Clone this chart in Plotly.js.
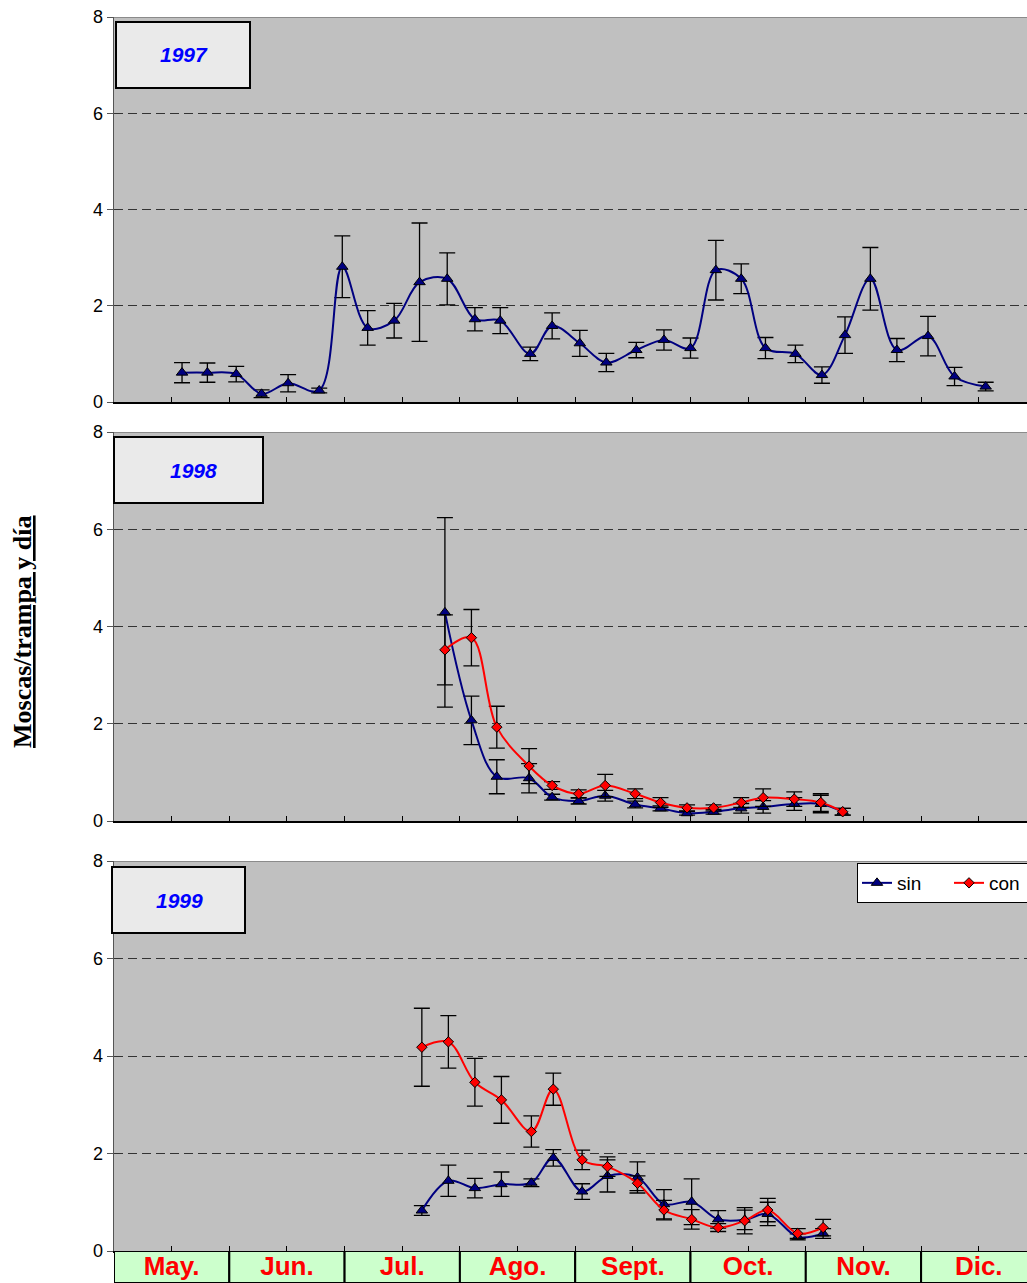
<!DOCTYPE html>
<html>
<head>
<meta charset="utf-8">
<script src="https://cdn.plot.ly/plotly-3.0.1.min.js"></script>
<style>
  html, body { margin: 0; padding: 0; background: #fff; }
  #chart { width: 1027px; height: 1283px; }
</style>
</head>
<body>
<div id="chart"></div>
<script>
// Month labels (x axis is in "months since 1 May": May = 0..1, Jun = 1..2, ...)
const months = ['May.', 'Jun.', 'Jul.', 'Ago.', 'Sept.', 'Oct.', 'Nov.', 'Dic.'];
const years = ['1997', '1998', '1999'];

// 1997 (sin only)
const x97 = [0.59, 0.81, 1.06, 1.28, 1.51, 1.78, 1.98, 2.20, 2.43, 2.65, 2.89, 3.13, 3.35, 3.61, 3.80, 4.04,
             4.27, 4.53, 4.77, 5.00, 5.22, 5.44, 5.65, 5.91, 6.14, 6.34, 6.56, 6.79, 7.06, 7.29, 7.56];
const sin97 = [0.61, 0.61, 0.58, 0.17, 0.39, 0.24, 2.81, 1.54, 1.69, 2.49, 2.56, 1.72, 1.69, 1.00, 1.58, 1.22,
               0.82, 1.08, 1.29, 1.12, 2.74, 2.56, 1.12, 1.00, 0.56, 1.39, 2.56, 1.08, 1.37, 0.53, 0.32];
const errSin97 = [0.21, 0.20, 0.16, 0.08, 0.18, 0.05, 0.64, 0.36, 0.36, 1.23, 0.54, 0.24, 0.27, 0.14, 0.27, 0.27,
                  0.19, 0.16, 0.21, 0.21, 0.62, 0.31, 0.22, 0.18, 0.17, 0.38, 0.65, 0.24, 0.41, 0.19, 0.09];

// 1998
const x98 = [2.87, 3.10, 3.32, 3.60, 3.80, 4.03, 4.26, 4.52, 4.74, 4.97, 5.20, 5.44, 5.63, 5.90, 6.13, 6.32];
const sin98 = [4.29, 2.07, 0.91, 0.88, 0.49, 0.41, 0.52, 0.34, 0.26, 0.16, 0.19, 0.26, 0.29, 0.35, 0.35, 0.19];
const errSin98 = [1.95, 0.50, 0.35, 0.30, 0.06, 0.06, 0.11, 0.07, 0.05, 0.04, 0.05, 0.10, 0.13, 0.13, 0.18, 0.07];
const con98 = [3.52, 3.77, 1.93, 1.13, 0.73, 0.56, 0.73, 0.56, 0.38, 0.27, 0.27, 0.38, 0.48, 0.45, 0.38, 0.19];
const errCon98 = [0.72, 0.58, 0.43, 0.36, 0.08, 0.08, 0.23, 0.10, 0.10, 0.06, 0.06, 0.10, 0.18, 0.15, 0.18, 0.07];

// 1999
const x99 = [2.67, 2.90, 3.13, 3.36, 3.62, 3.81, 4.06, 4.28, 4.54, 4.77, 5.01, 5.24, 5.47, 5.67, 5.93, 6.15];
const sin99 = [0.83, 1.44, 1.29, 1.37, 1.40, 1.91, 1.22, 1.54, 1.51, 0.96, 1.01, 0.65, 0.64, 0.76, 0.29, 0.36];
const errSin99 = [0.10, 0.32, 0.20, 0.25, 0.08, 0.17, 0.16, 0.33, 0.32, 0.30, 0.47, 0.18, 0.20, 0.24, 0.06, 0.10];
const con99 = [4.18, 4.29, 3.46, 3.10, 2.45, 3.32, 1.87, 1.73, 1.39, 0.84, 0.65, 0.48, 0.62, 0.84, 0.36, 0.48];
const errCon99 = [0.80, 0.54, 0.49, 0.48, 0.32, 0.33, 0.20, 0.20, 0.15, 0.20, 0.20, 0.08, 0.27, 0.24, 0.10, 0.17];

// ---------- styling helpers ----------
const H = 1283;
const py = p => 1 - p / H;           // pixel row -> paper y
const px = p => (p - 114) / 913;     // pixel column -> paper x

const blue = '#000080', red = '#FF0000';
function sinTrace(x, y, e, xa, ya, show) {
  return {
    x: x, y: y, xaxis: xa, yaxis: ya, type: 'scatter', mode: 'lines+markers', name: 'sin',
    showlegend: show, legendgroup: 'sin',
    line: { color: blue, width: 2, shape: 'spline', smoothing: 1 },
    marker: { symbol: 'triangle-up', size: 10, color: blue, line: { color: '#000', width: 1 } },
    error_y: { type: 'data', array: e, visible: true, color: '#000', thickness: 1.3, width: 8 },
    hoverinfo: 'x+y'
  };
}
function conTrace(x, y, e, xa, ya, show) {
  return {
    x: x, y: y, xaxis: xa, yaxis: ya, type: 'scatter', mode: 'lines+markers', name: 'con',
    showlegend: show, legendgroup: 'con',
    line: { color: red, width: 2, shape: 'spline', smoothing: 1 },
    marker: { symbol: 'diamond', size: 8, color: red, line: { color: '#000', width: 1 } },
    error_y: { type: 'data', array: e, visible: true, color: '#000', thickness: 1.3, width: 8 },
    hoverinfo: 'x+y'
  };
}

const monthCenters = months.map((m, i) => i + 0.5);

const traces = [
  sinTrace(x97, sin97, errSin97, 'x', 'y', false),
  sinTrace(x98, sin98, errSin98, 'x2', 'y2', false),
  conTrace(x98, con98, errCon98, 'x2', 'y2', false),
  sinTrace(x99, sin99, errSin99, 'x3', 'y3', true),
  conTrace(x99, con99, errCon99, 'x3', 'y3', true),
  // month strip
  {
    x: monthCenters, y: months.map(() => 1), xaxis: 'x4', yaxis: 'y4', type: 'bar', width: 1,
    marker: { color: '#CCFFCC', line: { color: '#000', width: 2 } },
    showlegend: false, hoverinfo: 'skip'
  },
  {
    x: monthCenters, y: months.map(() => 0.45), xaxis: 'x4', yaxis: 'y4', type: 'scatter', mode: 'text',
    text: months, textposition: 'middle center',
    textfont: { family: 'Liberation Sans, Arial, sans-serif', size: 26, color: '#FF0000', weight: 'bold' },
    showlegend: false, hoverinfo: 'skip', cliponaxis: false
  }
];

const XMAX = 913 / 115.3;
function xa(anchor) {
  return {
    anchor: anchor, range: [0, XMAX], showgrid: false, zeroline: false,
    showline: true, linecolor: '#000', linewidth: 2,
    ticks: 'inside', ticklen: 5, tickwidth: 1, tickcolor: '#000',
    tick0: 0, dtick: 0.5, showticklabels: false, fixedrange: true
  };
}
function ya(anchor, dom) {
  return {
    anchor: anchor, domain: dom, range: [0, 8], tick0: 0, dtick: 2,
    showgrid: true, gridcolor: '#333', gridwidth: 1, griddash: '9px,5px',
    zeroline: false, showline: true, linecolor: '#555', linewidth: 1.5,
    ticks: 'outside', ticklen: 6, tickwidth: 1, tickcolor: '#555',
    tickfont: { family: 'Liberation Sans, Arial, sans-serif', size: 18, color: '#000' },
    fixedrange: true
  };
}

const doms = [[py(402), py(17)], [py(821), py(432)], [py(1251), py(861)]];

const boxes = [
  { x0: 116, x1: 250, y0: 22, y1: 88, tx: 184, ty: 55 },
  { x0: 114, x1: 263, y0: 437, y1: 503, tx: 193, ty: 470 },
  { x0: 112, x1: 245, y0: 867, y1: 933, tx: 179, ty: 900 }
];

const shapes = [];
const annotations = [];
boxes.forEach((b, i) => {
  shapes.push({
    type: 'rect', xref: 'paper', yref: 'paper',
    x0: px(b.x0), x1: px(b.x1), y0: py(b.y1), y1: py(b.y0),
    fillcolor: '#EAEAEA', line: { color: '#000', width: 2 }, layer: 'above'
  });
  annotations.push({
    xref: 'paper', yref: 'paper', x: px(b.tx), y: py(b.ty), xanchor: 'center', yanchor: 'middle',
    text: '<b><i>' + years[i] + '</i></b>', showarrow: false,
    font: { family: 'Liberation Sans, Arial, sans-serif', size: 21, color: '#0000FF' }
  });
});
// top border lines of each panel
['y', 'y2', 'y3'].forEach((yr, i) => {
  const xr = ['x', 'x2', 'x3'][i];
  shapes.push({
    type: 'line', xref: xr + ' domain', yref: yr, x0: 0, x1: 1, y0: 8, y1: 8,
    line: { color: '#7a7a7a', width: 1.5 }, layer: 'above'
  });
});

annotations.push({
  xref: 'paper', yref: 'paper', x: px(22), y: py(632), xanchor: 'center', yanchor: 'middle',
  textangle: -90, showarrow: false,
  text: '<b><u>Moscas/trampa y día</u></b>',
  font: { family: 'Liberation Serif, Times New Roman, serif', size: 26, color: '#000' }
});

const layout = {
  width: 1027, height: 1283,
  margin: { l: 114, r: 0, t: 0, b: 0, pad: 0, autoexpand: false },
  paper_bgcolor: '#FFFFFF', plot_bgcolor: '#C0C0C0',
  font: { family: 'Liberation Sans, Arial, sans-serif', color: '#000' },
  xaxis: xa('y'), xaxis2: Object.assign(xa('y2'), { matches: 'x' }), xaxis3: Object.assign(xa('y3'), { matches: 'x' }),
  xaxis4: { anchor: 'y4', range: [0, XMAX], visible: false, fixedrange: true },
  yaxis: ya('x', doms[0]), yaxis2: ya('x2', doms[1]), yaxis3: ya('x3', doms[2]),
  yaxis4: { anchor: 'x4', domain: [0, py(1251)], range: [0, 1], visible: false, fixedrange: true },
  bargap: 0,
  showlegend: true,
  legend: {
    orientation: 'h', xref: 'paper', yref: 'paper', x: px(857), y: py(863), xanchor: 'left', yanchor: 'top',
    bgcolor: '#FFFFFF', bordercolor: '#000', borderwidth: 1,
    font: { family: 'Liberation Sans, Arial, sans-serif', size: 19, color: '#000' },
    entrywidth: 47, entrywidthmode: 'pixels', tracegroupgap: 0
  },
  shapes: shapes,
  annotations: annotations
};

Plotly.newPlot('chart', traces, layout, { displayModeBar: false, staticPlot: true });
</script>
</body>
</html>
